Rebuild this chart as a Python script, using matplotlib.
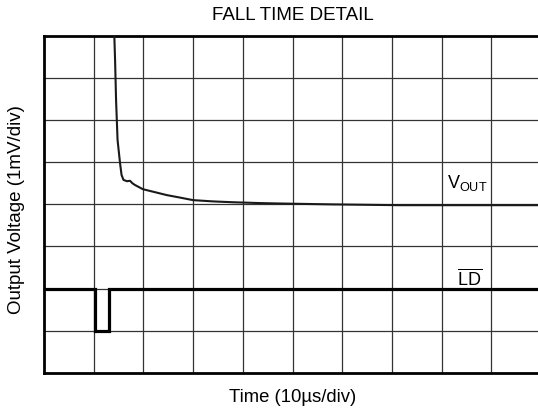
import numpy as np
import matplotlib.pyplot as plt

plt.rcParams['font.family'] = ['Liberation Sans', 'DejaVu Sans']
plt.rcParams['mathtext.fontset'] = 'custom'
plt.rcParams['mathtext.rm'] = 'Liberation Sans'
plt.rcParams['mathtext.it'] = 'Liberation Sans:italic'

# VOUT trace (x in div, y in div from bottom)
vout_t = [1.40, 1.415, 1.43, 1.45, 1.48, 1.53, 1.56, 1.60, 1.67, 1.73, 1.78,
          1.83, 1.99, 2.23, 2.47, 2.74, 3.00, 3.40, 3.80, 4.35, 4.75, 5.75,
          7.16, 8.50, 10.0]
vout_v = [8.40, 8.00, 7.43, 6.48, 5.53, 4.98, 4.70, 4.58, 4.55, 4.56, 4.50,
          4.46, 4.36, 4.29, 4.22, 4.16, 4.10, 4.07, 4.05, 4.03, 4.02, 4.00,
          3.98, 3.98, 3.98]

# LD logic trace
ld_t = [0.0, 1.03, 1.03, 1.31, 1.31, 10.0]
ld_v = [2.0, 2.0, 1.0, 1.0, 2.0, 2.0]

n_xdiv = 10
n_ydiv = 8

fig = plt.figure(figsize=(5.38, 4.12), dpi=100)
ax = fig.add_axes([44 / 538, (412 - 372.7) / 412, 497 / 538, 336.7 / 412])

for i in range(1, n_xdiv):
    ax.axvline(i, color='#333333', lw=0.9, zorder=1)
for j in range(1, n_ydiv):
    ax.axhline(j, color='#333333', lw=0.9, zorder=1)

ax.plot(vout_t, vout_v, color='#1a1a1a', lw=1.5, zorder=3)
ax.plot(ld_t, ld_v, color='black', lw=2.3, solid_joinstyle='miter', zorder=3)

ax.text(8.11, 4.39, r'V$_{\mathrm{OUT}}$', fontsize=13, ha='left', va='baseline')
ax.text(8.31, 2.08, r'$\overline{\mathrm{LD}}$', fontsize=13, ha='left', va='baseline')

ax.set_xlim(0, n_xdiv)
ax.set_ylim(0, n_ydiv)
ax.set_xticks([])
ax.set_yticks([])
for s in ax.spines.values():
    s.set_linewidth(2.0)

fig.text(293 / 538, 1 - 15 / 412, 'FALL TIME DETAIL', fontsize=13.5, ha='center', va='center')
fig.text(293 / 538, 1 - 397 / 412, 'Time (10µs/div)', fontsize=13.3, ha='center', va='center')
fig.text(16.5 / 538, 1 - 210 / 412, 'Output Voltage (1mV/div)', fontsize=13.5,
         ha='center', va='center', rotation=90)

fig.savefig('out.png', dpi=100)
